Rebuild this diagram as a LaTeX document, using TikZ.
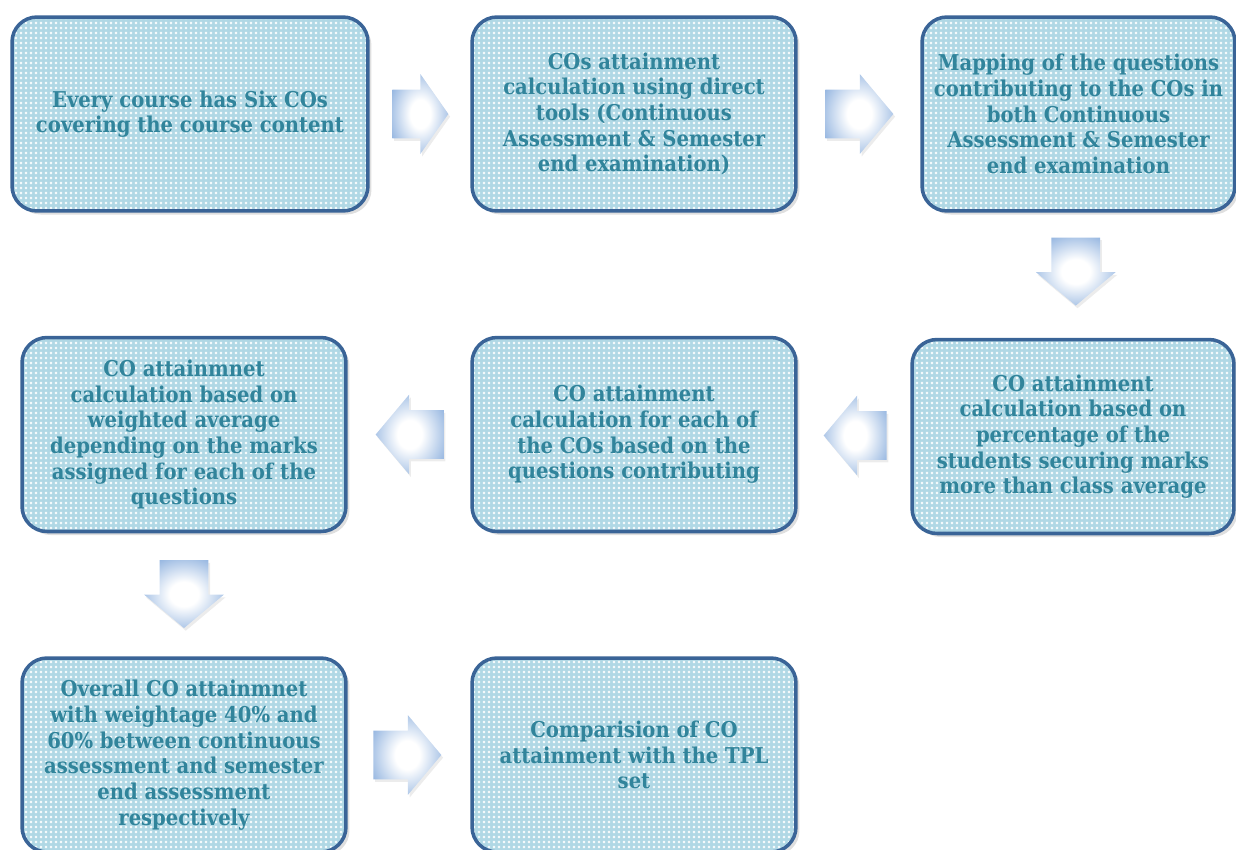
\documentclass[tikz,border=0pt]{standalone}
\usepackage{fontspec}
\usepackage{xcolor}
\usetikzlibrary{shapes.arrows}
\usetikzlibrary{shadows,patterns}
\usetikzlibrary{calc,positioning}

\IfFontExistsTF{DejaVu Serif Condensed Bold}
  {\newfontfamily\boxfont{DejaVu Serif Condensed Bold}}
  {\newfontfamily\boxfont{DejaVu Serif Bold}[FakeStretch=0.9]}

\definecolor{boxfill}{HTML}{B0D8E5}
\definecolor{boxline}{HTML}{3A6497}
\definecolor{boxtext}{HTML}{31849B}
\definecolor{arrowblue}{HTML}{94B5E0}
\pgfdeclareradialshading{arrowglow}{\pgfpointorigin}{color(0bp)=(white); color(9bp)=(white); color(30bp)=(arrowblue); color(50bp)=(arrowblue)}
\pgfdeclarepatternformonly{whitegrid}{\pgfpointorigin}{\pgfpoint{2.8pt}{2.8pt}}{\pgfpoint{2.8pt}{2.8pt}}
  {\pgfpathrectangle{\pgfpoint{0.5pt}{0.5pt}}{\pgfpoint{1.3pt}{1.3pt}}\pgfusepath{fill}}

\begin{document}
\begin{tikzpicture}[
  x=0.02cm, y=-0.02cm,
  stepbox/.style={rectangle, rounded corners=0.5cm, draw=boxline, line width=2pt,
    drop shadow={shadow xshift=2pt, shadow yshift=-2pt, opacity=0.25},
    preaction={fill=boxfill}, pattern=whitegrid, pattern color=white!85!boxfill,
    minimum width=6.48cm, minimum height=3.88cm, align=center, text=boxtext,
    font=\boxfont\fontsize{12.4}{14.6}\selectfont},
  flow/.style={single arrow, shading=arrowglow, draw=none, anchor=tail,
    drop shadow={shadow xshift=1pt, shadow yshift=-1.5pt, opacity=0.15},
    minimum height=1.36cm, minimum width=0pt, inner xsep=0pt, inner ysep=0.48cm,
    single arrow head extend=0.31cm, single arrow tip angle=100}
]
\path[use as bounding box, clip] (0,0) rectangle (1236,849);

% steps, row by row
\node[stepbox, minimum width=7.12cm] (courseCOs) at (190,114)
  {Every course has Six COs\\covering the course content};
\node[stepbox] (directTools) at (634,114)
  {COs attainment\\calculation using direct\\tools (Continuous\\Assessment \& Semester\\end examination)};
\node[stepbox, minimum width=6.26cm] (questionMap) at (1078.5,114)
  {Mapping of the questions\\contributing to the COs in\\both Continuous\\Assessment \& Semester\\end examination};

\node[stepbox, minimum width=6.44cm] (classAvg) at (1073,436.5)
  {CO attainment\\calculation based on\\percentage of the\\students securing marks\\more than class average};
\node[stepbox] (eachCO) at (634,434.5)
  {CO attainment\\calculation for each of\\the COs based on the\\questions contributing};
\node[stepbox] (weightedAvg) at (184,434.5)
  {CO attainmnet\\calculation based on\\weighted average\\depending on the marks\\assigned for each of the\\questions};

\node[stepbox] (overallCO) at (184,755)
  {Overall CO attainmnet\\with weightage 40\% and\\60\% between continuous\\assessment and semester\\end assessment\\respectively};
\node[stepbox] (tplCompare) at (634,755)
  {Comparision of CO\\attainment with the TPL\\set};

% block arrows between the steps (placed by their tails)
\node[flow, minimum height=1.12cm, single arrow tip angle=110] (a1)
  at ($(courseCOs.east)!.5!(directTools.west)+(-28,0)$) {};
\node[flow] (a2) at ($(directTools.east)!.5!(questionMap.west)+(-34,0)$) {};
\node[flow, rotate=-90] (a3) at ($(questionMap.south)!.5!(classAvg.north)+(0,-38)$) {};
\node[flow, rotate=180, minimum height=1.26cm] (a4) at ($(eachCO.east)!.5!(classAvg.west)+(33,0)$) {};
\node[flow, rotate=180] (a5) at ($(weightedAvg.east)!.5!(eachCO.west)+(35,0)$) {};
\node[flow, rotate=-90] (a6) at ($(weightedAvg.south)!.5!(overallCO.north)+(0,-35)$) {};
\node[flow] (a7) at ($(overallCO.east)!.5!(tplCompare.west)+(-36,0)$) {};
\end{tikzpicture}
\end{document}
